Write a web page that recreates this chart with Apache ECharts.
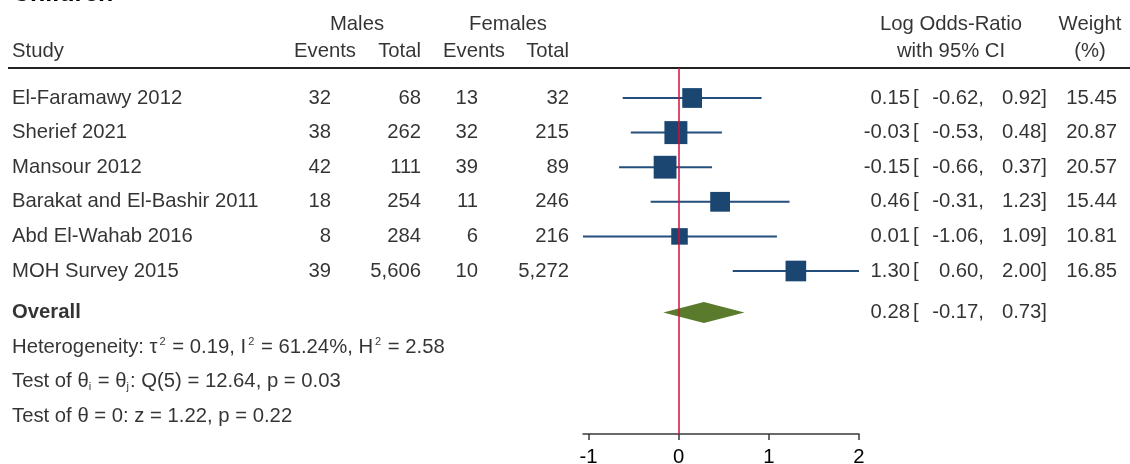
<!DOCTYPE html>
<html>
<head>
<meta charset="utf-8">
<script src="https://cdn.jsdelivr.net/npm/echarts@6/dist/echarts.min.js"></script>
<style>
  html, body { margin: 0; padding: 0; background: #fff; }
  #chart { width: 1130px; height: 464px; }
</style>
</head>
<body>
<div id="chart"></div>
<script>
// study data
const studies = ['El-Faramawy 2012', 'Sherief 2021', 'Mansour 2012', 'Barakat and El-Bashir 2011', 'Abd El-Wahab 2016', 'MOH Survey 2015']
const maleEvents = [32, 38, 42, 18, 8, 39]
const maleTotal = [68, 262, 111, 254, 284, 5606]
const femaleEvents = [13, 32, 39, 11, 6, 10]
const femaleTotal = [32, 215, 89, 246, 216, 5272]
const logOR = [0.15, -0.03, -0.15, 0.46, 0.01, 1.30]
const ciLow = [-0.62, -0.53, -0.66, -0.31, -1.06, 0.60]
const ciHigh = [0.92, 0.48, 0.37, 1.23, 1.09, 2.00]
const weights = [15.45, 20.87, 20.57, 15.44, 10.81, 16.85]
const overall = [0.28, -0.17, 0.73] // est, low, high
const xTicks = [-1, 0, 1, 2]

const FONT = 'Liberation Sans, Arial, sans-serif'
const FS = 20.3
const rowPx = 34.6
const row0Y = 98
const H = 464
const axisY = 434
const topY = 68

const rows = studies.map((s, i) => i)
const overallRow = 6.2
const footRows = [7.2, 8.2, 9.2]
const head1 = (24 - row0Y) / rowPx
const head2 = (51 - row0Y) / rowPx

const fmtInt = v => v.toLocaleString('en-US')
const fmt2 = v => v.toFixed(2)

// text column on the full-width grid
function textCol(texts, xs, rowIdx, align, extra) {
  const pos = align === 'right' ? 'left' : (align === 'left' ? 'right' : 'inside')
  return {
    type: 'scatter',
    xAxisIndex: 1,
    yAxisIndex: 1,
    symbolSize: 0,
    silent: true,
    clip: false,
    data: texts.map((t, i) => ({ name: t, value: [Array.isArray(xs) ? xs[i] : xs, rowIdx[i]] })),
    label: Object.assign({
      show: true,
      position: pos,
      distance: 0,
      formatter: '{b}',
      color: '#000',
      fontFamily: FONT,
      fontSize: FS
    }, extra || {})
  }
}

const chart = echarts.init(document.getElementById('chart'), null, { renderer: 'canvas' })

const sub = { fontFamily: FONT, fontSize: 11, color: '#000', verticalAlign: 'bottom', lineHeight: 22, padding: [0, 1, 0, 0] }
const sup = { fontFamily: FONT, fontSize: 11, color: '#000', verticalAlign: 'top', lineHeight: 22, padding: [0, 1, 0, 2] }
const txt = { fontFamily: FONT, fontSize: FS, color: '#000', lineHeight: 22 }
const allRows = rows.concat([overallRow])

chart.setOption({
  animation: false,
  backgroundColor: '#fff',
  grid: [
    { left: 583, right: 1130 - 859, top: topY, bottom: H - axisY, outerBoundsMode: 'none' },
    { left: 0, right: 0, top: 0, bottom: 0, outerBoundsMode: 'none' }
  ],
  xAxis: [{
    gridIndex: 0,
    type: 'value',
    min: -1.06,
    max: 2.0,
    splitLine: { show: false },
    axisLine: { show: true, onZero: false, lineStyle: { color: '#3a3a3a', width: 1.5 } },
    axisTick: { show: true, length: 6, customValues: xTicks, lineStyle: { color: '#3a3a3a', width: 1.5 } },
    axisLabel: { customValues: xTicks, color: '#000', fontFamily: FONT, fontSize: FS, margin: 13 }
  }, {
    gridIndex: 1,
    type: 'value',
    min: 0,
    max: 1130,
    show: false
  }],
  yAxis: [{
    gridIndex: 0,
    type: 'value',
    inverse: true,
    min: (topY - row0Y) / rowPx,
    max: (axisY - row0Y) / rowPx,
    show: false
  }, {
    gridIndex: 1,
    type: 'value',
    inverse: true,
    min: -row0Y / rowPx,
    max: (H - row0Y) / rowPx,
    show: false
  }],
  graphic: [{
    type: 'text',
    left: 12,
    top: -18.5,
    style: { text: 'Children', font: 'bold 25px ' + FONT, fill: '#000' }
  }, {
    type: 'line',
    shape: { x1: 8, y1: topY, x2: 1130, y2: topY },
    style: { stroke: '#222', lineWidth: 2 }
  }],
  series: [
    // study CIs and weighted squares
    {
      type: 'custom',
      xAxisIndex: 0,
      yAxisIndex: 0,
      data: rows.map(i => [logOR[i], i, ciLow[i], ciHigh[i], weights[i]]),
      encode: { x: [0, 2, 3], y: 1 },
      renderItem(params, api) {
        const y = api.value(1)
        const p = api.coord([api.value(0), y])
        const l = api.coord([api.value(2), y])
        const h = api.coord([api.value(3), y])
        const s = 5.03 * Math.sqrt(api.value(4))
        return {
          type: 'group',
          children: [{
            type: 'line',
            shape: { x1: l[0], y1: p[1], x2: h[0], y2: p[1] },
            style: { stroke: '#244f7d', lineWidth: 2 }
          }, {
            type: 'rect',
            shape: { x: p[0] - s / 2, y: p[1] - s / 2, width: s, height: s },
            style: { fill: '#1b4672' }
          }]
        }
      },
      markLine: {
        silent: true,
        symbol: 'none',
        label: { show: false },
        lineStyle: { color: '#d3103c', width: 1.5, type: 'solid' },
        data: [{ xAxis: 0 }]
      }
    },
    // overall diamond
    {
      type: 'custom',
      xAxisIndex: 0,
      yAxisIndex: 0,
      data: [[overall[0], overallRow, overall[1], overall[2]]],
      encode: { x: [0, 2, 3], y: 1 },
      renderItem(params, api) {
        const y = api.value(1)
        const c = api.coord([api.value(0), y])
        const l = api.coord([api.value(2), y])
        const h = api.coord([api.value(3), y])
        const hh = 10.5
        return {
          type: 'polygon',
          shape: { points: [[l[0], c[1]], [c[0], c[1] - hh], [h[0], c[1]], [c[0], c[1] + hh]] },
          style: { fill: '#5a7a2c' }
        }
      }
    },
    // header
    textCol(['Males', 'Females', 'Log Odds-Ratio', 'Weight'], [357, 508, 951, 1090], [head1, head1, head1, head1], 'center'),
    textCol(['Study'], 12, [head2], 'left'),
    textCol(['Events', 'Total', 'Events', 'Total'], [356, 421, 505, 569], [head2, head2, head2, head2], 'right'),
    textCol(['with 95% CI', '(%)'], [951, 1090], [head2, head2], 'center'),
    // table body
    textCol(studies, 12, rows, 'left'),
    textCol(maleEvents.map(fmtInt), 331, rows, 'right'),
    textCol(maleTotal.map(fmtInt), 421, rows, 'right'),
    textCol(femaleEvents.map(fmtInt), 478, rows, 'right'),
    textCol(femaleTotal.map(fmtInt), 569, rows, 'right'),
    textCol(logOR.concat([overall[0]]).map(fmt2), 910, allRows, 'right'),
    textCol(allRows.map(() => '['), 913, allRows, 'left'),
    textCol(ciLow.concat([overall[1]]).map(v => fmt2(v) + ','), 984, allRows, 'right'),
    textCol(ciHigh.concat([overall[2]]).map(v => fmt2(v) + ']'), 1047, allRows, 'right'),
    textCol(weights.map(fmt2), 1117, rows, 'right'),
    // overall + footer
    textCol(['Overall'], 12, [overallRow], 'left', { fontWeight: 'bold' }),
    textCol(['{t|Heterogeneity: τ}{sp|2}{t| = 0.19, I}{sp|2}{t| = 61.24%, H}{sp|2}{t| = 2.58}'], 12, [footRows[0]], 'left', { rich: { t: txt, sp: sup } }),
    textCol(['{t|Test of θ}{sb|i}{t| = θ}{sb|j}{t|: Q(5) = 12.64, p = 0.03}'], 12, [footRows[1]], 'left', { rich: { t: txt, sb: sub } }),
    textCol(['Test of θ = 0: z = 1.22, p = 0.22'], 12, [footRows[2]], 'left')
  ]
})
</script>
</body>
</html>
